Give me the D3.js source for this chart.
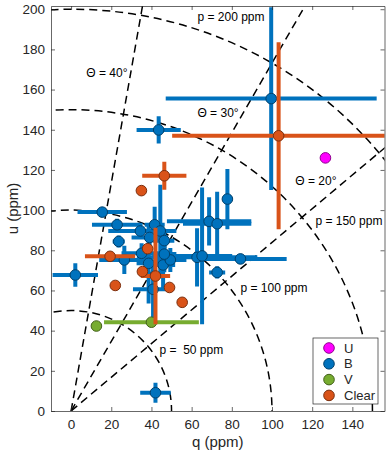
<!DOCTYPE html>
<html>
<head>
<meta charset="utf-8">
<script src="https://cdn.jsdelivr.net/npm/d3@7"></script>
<style>
  body { margin: 0; background: #fff; }
  svg text { font-family: "Liberation Sans", Arial, Helvetica, sans-serif; }
</style>
</head>
<body>
<div id="chart"></div>
<script>
// series: [q, u, dq, du] in ppm
const seriesU = [[126.6, 126.0, 0, 0]];
const seriesB = [
  [15.5, 99.0, 12.3, 2], [22.9, 92.7, 12.5, 3], [23.7, 84.4, 3, 3],
  [34.5, 89.6, 16, 4], [41.6, 92.7, 5, 9], [44.4, 89.6, 8, 23],
  [39.1, 86.4, 9, 4], [46.4, 84.8, 5, 5], [26.5, 75.2, 12.5, 7],
  [35.1, 78.5, 10, 5], [38.6, 73.5, 6, 20], [45.8, 72.7, 6, 12],
  [49.4, 75.2, 8, 6], [46.4, 78.1, 6, 9], [40.8, 60.6, 10, 15],
  [2.1, 67.7, 11.3, 5.8], [42.0, 9.1, 7.6, 5], [43.6, 139.9, 11, 6.8],
  [99.6, 155.5, 52.5, 45.5], [62.7, 76.5, 30, 14.5], [65.2, 77.2, 15, 34],
  [68.7, 94.4, 21, 12], [72.7, 93.2, 17, 16], [77.8, 105.5, 2, 15],
  [84.3, 75.7, 23, 2], [72.7, 69.0, 4, 3]
];
const seriesV = [[12.6, 42.3, 0, 0], [40.0, 44.2, 23.6, 1]];
const seriesClear = [
  [46.4, 117.1, 11, 7], [35.0, 109.7, 0, 0], [19.4, 77.0, 12.5, 2],
  [38.1, 80.8, 2, 2], [22.0, 62.5, 0, 0], [35.5, 69.4, 2, 2],
  [42.0, 67.2, 7.3, 24], [49.0, 61.5, 0, 0], [55.3, 54.1, 0, 0],
  [103.3, 137.0, 53, 46.5]
];
const seriesNames = ["U", "B", "V", "Clear"];
const seriesColours = ["#ff00ff", "#0072bd", "#77ac30", "#d95319"];

const pRadii = [50, 100, 150, 200];
const thetaLines = [20, 30, 40]; // polarisation angle, line drawn at 2*theta
const xTicks = [0, 20, 40, 60, 80, 100, 120, 140];
const yTicks = [0, 20, 40, 60, 80, 100, 120, 140, 160, 180, 200];

// annotation anchors in data units (left edge, vertical centre)
const notes = [
  { text: "p = 200 ppm", q: 62.9, u: 196.2 },
  { text: "p = 150 ppm", q: 121.6, u: 94.5 },
  { text: "p = 100 ppm", q: 84.3, u: 61.2 },
  { text: "p =  50 ppm", q: 44.0, u: 30.4 },
  { text: "\u0398 = 40\u00b0", q: 7.6, u: 168.2 },
  { text: "\u0398 = 30\u00b0", q: 62.9, u: 148.3 },
  { text: "\u0398 = 20\u00b0", q: 111.6, u: 114.4 }
];

const width = 390;
const height = 456;
const margin = { top: 6, right: 5.5, bottom: 45, left: 51 };
const axisColour = "#262626";

const x = d3.scaleLinear().domain([-10, 156]).range([margin.left, width - margin.right]);
const y = d3.scaleLinear().domain([0, 201.6]).range([height - margin.bottom, margin.top]);

const svg = d3.select("#chart").append("svg")
  .attr("width", width).attr("height", height);

svg.append("clipPath").attr("id", "plotClip")
  .append("rect")
  .attr("x", margin.left).attr("y", margin.top)
  .attr("width", width - margin.left - margin.right)
  .attr("height", height - margin.top - margin.bottom);

const plot = svg.append("g").attr("clip-path", "url(#plotClip)");

// guide circles and angle lines
plot.selectAll(".pcircle").data(pRadii).enter().append("circle")
  .attr("cx", x(0)).attr("cy", y(0))
  .attr("r", (d) => x(d) - x(0))
  .attr("fill", "none").attr("stroke", "#000")
  .attr("stroke-width", 1.5).attr("stroke-dasharray", "8,5");

plot.selectAll(".tline").data(thetaLines).enter().append("line")
  .attr("x1", x(0)).attr("y1", y(0))
  .attr("x2", (d) => x(300 * Math.cos((2 * d * Math.PI) / 180)))
  .attr("y2", (d) => y(300 * Math.sin((2 * d * Math.PI) / 180)))
  .attr("stroke", "#000").attr("stroke-width", 1.5).attr("stroke-dasharray", "8,5");

svg.selectAll(".note").data(notes).enter().append("text")
  .attr("x", (d) => x(d.q)).attr("y", (d) => y(d.u))
  .attr("dy", "0.35em")
  .style("white-space", "pre")
  .style("font-size", "12px")
  .attr("fill", "#000")
  .text((d) => d.text);

// error bars then markers, one series at a time
const allSeries = [seriesU, seriesB, seriesV, seriesClear];
allSeries.forEach(function (rows, i) {
  const colour = seriesColours[i];
  const g = plot.append("g");
  g.selectAll(".hbar").data(rows.filter((d) => d[2] > 0)).enter().append("line")
    .attr("x1", (d) => x(d[0] - d[2])).attr("x2", (d) => x(d[0] + d[2]))
    .attr("y1", (d) => y(d[1])).attr("y2", (d) => y(d[1]))
    .attr("stroke", colour).attr("stroke-width", 4);
  g.selectAll(".vbar").data(rows.filter((d) => d[3] > 0)).enter().append("line")
    .attr("x1", (d) => x(d[0])).attr("x2", (d) => x(d[0]))
    .attr("y1", (d) => y(d[1] - d[3])).attr("y2", (d) => y(d[1] + d[3]))
    .attr("stroke", colour).attr("stroke-width", 4);
  g.selectAll(".dot").data(rows).enter().append("circle")
    .attr("cx", (d) => x(d[0])).attr("cy", (d) => y(d[1]))
    .attr("r", 5.3)
    .attr("fill", colour)
    .attr("stroke", d3.rgb(colour).darker(1.6))
    .attr("stroke-width", 1);
});

// axes, ticks inside, box on
function styleAxis(g) {
  g.selectAll("path").attr("stroke", axisColour).attr("stroke-width", 0.7);
  g.selectAll("line").attr("stroke", axisColour).attr("stroke-width", 0.7);
  g.selectAll("text").attr("fill", axisColour).style("font-size", "13.5px")
    .style("font-family", "'Liberation Sans', Arial, sans-serif");
}

svg.append("g").attr("transform", `translate(0,${height - margin.bottom})`)
  .call(d3.axisBottom(x).tickValues(xTicks).tickSizeInner(-4).tickSizeOuter(0).tickPadding(8))
  .call(styleAxis);
svg.append("g").attr("transform", `translate(0,${margin.top})`)
  .call(d3.axisTop(x).tickValues(xTicks).tickSizeInner(-4).tickSizeOuter(0).tickFormat(""))
  .call(styleAxis);
svg.append("g").attr("transform", `translate(${margin.left},0)`)
  .call(d3.axisLeft(y).tickValues(yTicks).tickSizeInner(-4).tickSizeOuter(0).tickPadding(6))
  .call(styleAxis);
svg.append("g").attr("transform", `translate(${width - margin.right},0)`)
  .call(d3.axisRight(y).tickValues(yTicks).tickSizeInner(-4).tickSizeOuter(0).tickFormat(""))
  .call(styleAxis);

// axis labels
svg.append("text")
  .attr("x", (margin.left + width - margin.right) / 2).attr("y", 447)
  .attr("text-anchor", "middle").attr("fill", axisColour)
  .style("font-size", "15px").text("q (ppm)");
svg.append("text")
  .attr("transform", `translate(18,${(margin.top + height - margin.bottom) / 2}) rotate(-90)`)
  .attr("text-anchor", "middle").attr("fill", axisColour)
  .style("font-size", "15px").text("u (ppm)");

// legend
const legend = svg.append("g").attr("transform", "translate(313,338)");
legend.append("rect").attr("width", 65).attr("height", 66)
  .attr("fill", "#fff").attr("stroke", axisColour).attr("stroke-width", 0.7);
const rows = legend.selectAll(".entry").data(seriesNames).enter().append("g")
  .attr("transform", (d, i) => `translate(0,${10 + i * 15.8})`);
rows.append("circle").attr("cx", 16).attr("cy", 0).attr("r", 5.3)
  .attr("fill", (d, i) => seriesColours[i])
  .attr("stroke", (d, i) => d3.rgb(seriesColours[i]).darker(1.6));
rows.append("text").attr("x", 31).attr("y", 0).attr("dy", "0.36em")
  .attr("fill", axisColour).style("font-size", "13px").text((d) => d);
</script>
</body>
</html>
